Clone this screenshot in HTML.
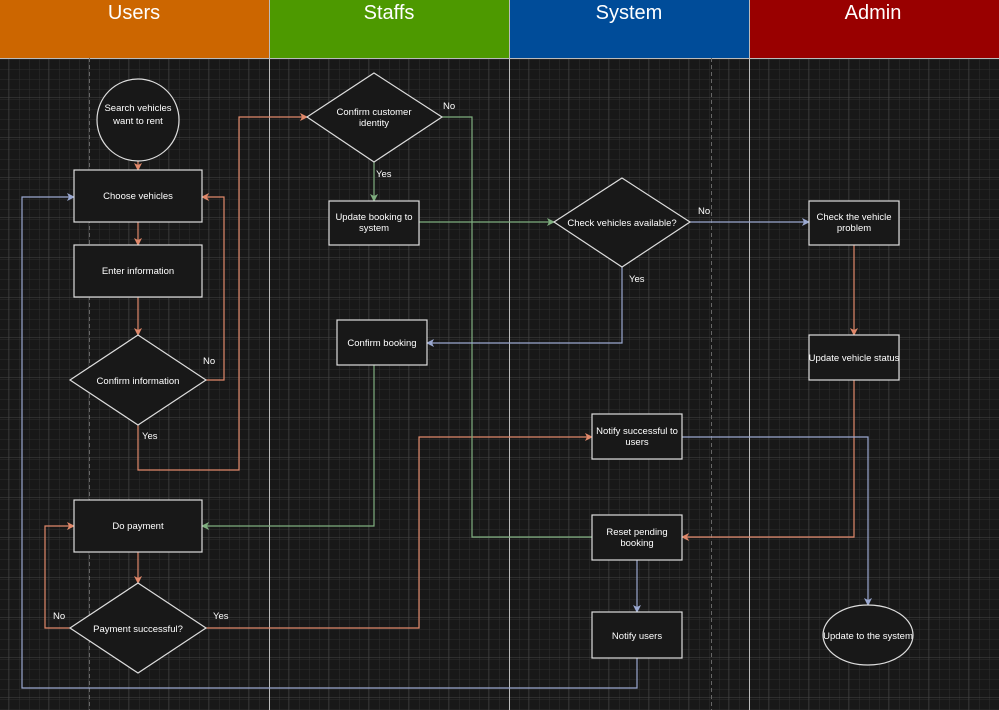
<!DOCTYPE html>
<html><head><meta charset="utf-8"><style>
html,body{margin:0;padding:0;background:#181818;}
svg{display:block;font-family:"Liberation Sans",Arial,sans-serif;}
</style></head><body>
<svg width="999" height="710" viewBox="0 0 999 710" xmlns="http://www.w3.org/2000/svg">
<defs>
<pattern id="mg" width="10" height="10" patternUnits="userSpaceOnUse"><path d="M10 0V10H0" fill="none" stroke="#2e2e2e" stroke-width="1"/></pattern>
<pattern id="Mg" width="40" height="40" patternUnits="userSpaceOnUse" x="9" y="18"><path d="M40 0V40H0" fill="none" stroke="#444" stroke-width="1"/></pattern>
<marker id="ao" markerWidth="8" markerHeight="8" refX="7" refY="4" orient="auto" markerUnits="userSpaceOnUse"><path d="M0 0L8 4L0 8L2 4Z" fill="#e0886a"/></marker>
<marker id="ag" markerWidth="8" markerHeight="8" refX="7" refY="4" orient="auto" markerUnits="userSpaceOnUse"><path d="M0 0L8 4L0 8L2 4Z" fill="#7fae7f"/></marker>
<marker id="ab" markerWidth="8" markerHeight="8" refX="7" refY="4" orient="auto" markerUnits="userSpaceOnUse"><path d="M0 0L8 4L0 8L2 4Z" fill="#9aa8d0"/></marker>
</defs>
<rect width="999" height="710" fill="#181818"/>
<rect y="58" width="999" height="652" fill="url(#mg)"/>
<rect y="58" width="999" height="652" fill="url(#Mg)"/>
<rect x="0" y="0" width="269" height="58" fill="#cc6600"/>
<rect x="269" y="0" width="241" height="58" fill="#4d9900"/>
<rect x="510" y="0" width="240" height="58" fill="#004c99"/>
<rect x="750" y="0" width="249" height="58" fill="#990000"/>
<g fill="#fff" font-size="20" text-anchor="middle">
<text x="134" y="19">Users</text><text x="389" y="19">Staffs</text><text x="629" y="19">System</text><text x="873" y="19">Admin</text>
</g>
<g stroke="#bbb" stroke-width="1"><line x1="269.5" y1="0" x2="269.5" y2="710"/><line x1="509.5" y1="0" x2="509.5" y2="710"/><line x1="749.5" y1="0" x2="749.5" y2="710"/><line x1="0" y1="58.5" x2="999" y2="58.5"/></g>
<g stroke="#666" stroke-dasharray="4 3"><line x1="89.5" y1="58" x2="89.5" y2="710"/><line x1="711.5" y1="58" x2="711.5" y2="710"/></g>

<g fill="none" stroke-width="1.2">
<g stroke="#e0886a">
<path d="M138 161V170" marker-end="url(#ao)"/>
<path d="M138 222V245" marker-end="url(#ao)"/>
<path d="M138 297V335" marker-end="url(#ao)"/>
<path d="M206 380H224V197H202" marker-end="url(#ao)"/>
<path d="M138 425V470H239V117H307" marker-end="url(#ao)"/>
<path d="M138 552V583" marker-end="url(#ao)"/>
<path d="M70 628H45V526H74" marker-end="url(#ao)"/>
<path d="M206 628H419V437H592" marker-end="url(#ao)"/>
<path d="M854 245V335" marker-end="url(#ao)"/>
<path d="M854 380V537H682" marker-end="url(#ao)"/>
</g>
<g stroke="#7fae7f">
<path d="M374 162V201" marker-end="url(#ag)"/>
<path d="M442 117H472V537H592"/>
<path d="M419 222H554" marker-end="url(#ag)"/>
<path d="M374 365V526H202" marker-end="url(#ag)"/>
</g>
<g stroke="#9aa8d0">
<path d="M690 222H809" marker-end="url(#ab)"/>
<path d="M622 267V343H427" marker-end="url(#ab)"/>
<path d="M682 437H868V605" marker-end="url(#ab)"/>
<path d="M637 560V612" marker-end="url(#ab)"/>
<path d="M637 658V688H22V197H74" marker-end="url(#ab)"/>
</g>
</g>

<g fill="#181818" stroke="#ddd" stroke-width="1.2">
<circle cx="138" cy="120" r="41"/>
<rect x="74" y="170" width="128" height="52"/>
<rect x="74" y="245" width="128" height="52"/>
<path d="M138 335L206 380L138 425L70 380Z"/>
<rect x="74" y="500" width="128" height="52"/>
<path d="M138 583L206 628L138 673L70 628Z"/>
<path d="M374 73L442 117L374 162L307 117Z"/>
<rect x="329" y="201" width="90" height="44"/>
<rect x="337" y="320" width="90" height="45"/>
<path d="M622 178L690 222L622 267L554 222Z"/>
<rect x="592" y="414" width="90" height="45"/>
<rect x="592" y="515" width="90" height="45"/>
<rect x="592" y="612" width="90" height="46"/>
<rect x="809" y="201" width="90" height="44"/>
<rect x="809" y="335" width="90" height="45"/>
<ellipse cx="868" cy="635" rx="45" ry="30"/>
</g>

<g fill="#fff" font-size="9.5" text-anchor="middle">
<text x="138" y="111">Search vehicles</text><text x="138" y="124">want to rent</text>
<text x="138" y="199">Choose vehicles</text>
<text x="138" y="274">Enter information</text>
<text x="138" y="384">Confirm information</text>
<text x="138" y="529">Do payment</text>
<text x="138" y="632">Payment successful?</text>
<text x="374" y="115">Confirm customer</text><text x="374" y="126">identity</text>
<text x="374" y="220">Update booking to</text><text x="374" y="231">system</text>
<text x="382" y="346">Confirm booking</text>
<text x="622" y="226">Check vehicles available?</text>
<text x="637" y="434">Notify successful to</text><text x="637" y="445">users</text>
<text x="637" y="535">Reset pending</text><text x="637" y="546">booking</text>
<text x="637" y="639">Notify users</text>
<text x="854" y="220">Check the vehicle</text><text x="854" y="231">problem</text>
<text x="854" y="361">Update vehicle status</text>
<text x="868" y="639">Update to the system</text>
</g>
<g fill="#fff" font-size="9.5">
<text x="203" y="364">No</text><text x="142" y="439">Yes</text>
<text x="443" y="109">No</text><text x="376" y="177">Yes</text>
<text x="698" y="214">No</text><text x="629" y="282">Yes</text>
<text x="53" y="619">No</text><text x="213" y="619">Yes</text>
</g>
</svg>
</body></html>
